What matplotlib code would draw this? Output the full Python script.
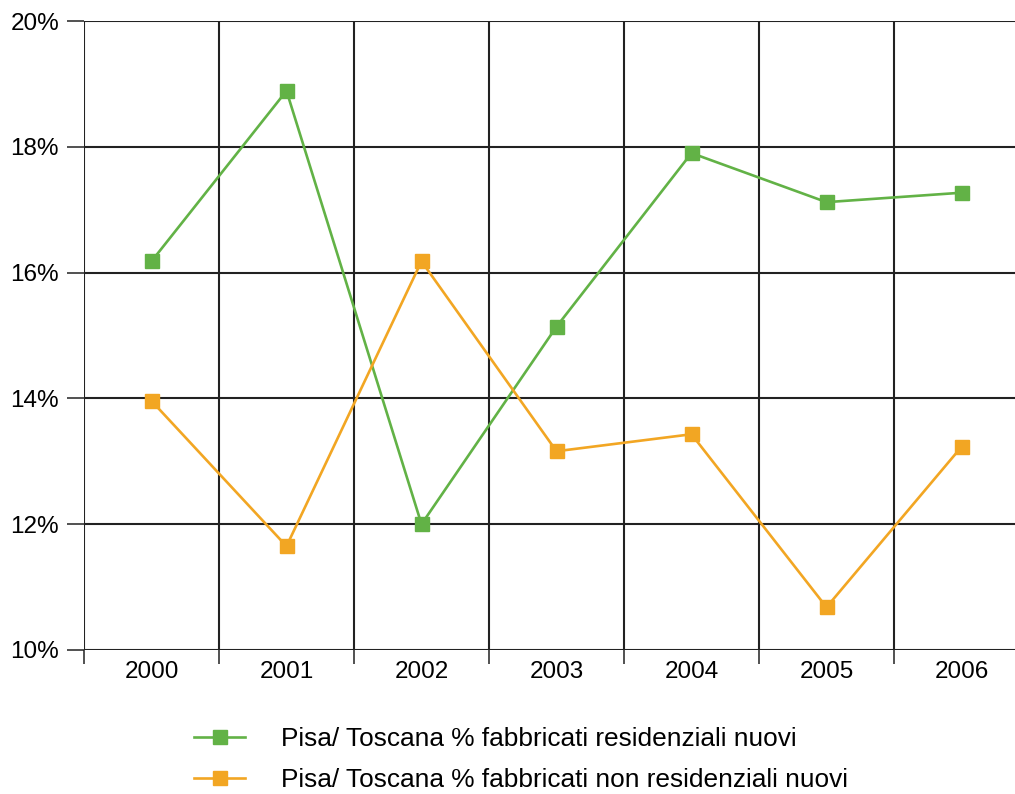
import matplotlib
matplotlib.use("Agg")
import matplotlib.pyplot as plt
from matplotlib.ticker import FixedLocator

years = ["2000", "2001", "2002", "2003", "2004", "2005", "2006"]
residenziali = [16.18, 18.89, 12.0, 15.14, 17.90, 17.12, 17.27]
non_residenziali = [13.96, 11.65, 16.18, 13.16, 13.43, 10.68, 13.23]
y_ticks = [10, 12, 14, 16, 18, 20]
label_res = "Pisa/ Toscana % fabbricati residenziali nuovi"
label_nonres = "Pisa/ Toscana % fabbricati non residenziali nuovi"

plt.rcParams['font.family'] = ['Liberation Sans', 'DejaVu Sans']

W, H = 1015, 794
fig = plt.figure(figsize=(W / 100, H / 100), dpi=100)
ax = fig.add_axes([84 / W, 1 - 650 / H, 945 / W, 629 / H])

x = list(range(len(years)))
green = "#62b246"
orange = "#f2a623"
ax.plot(x, residenziali, color=green, lw=1.9, marker="s", ms=10, mec=green,
        label=label_res, clip_on=False, zorder=3)
ax.plot(x, non_residenziali, color=orange, lw=1.9, marker="s", ms=10, mec=orange,
        label=label_nonres, clip_on=False, zorder=3)

ax.set_xlim(-0.5, len(years) - 0.5)
ax.set_ylim(10, 20)
ax.set_xticks(x)
ax.set_xticklabels(years, fontsize=17.5)
ax.xaxis.set_minor_locator(FixedLocator([i - 0.5 for i in range(len(years) + 1)]))
ax.set_yticks(y_ticks)
ax.set_yticklabels([f"{v}%" for v in y_ticks], fontsize=17.5)

for s in ax.spines.values():
    s.set_visible(False)

ax.tick_params(axis="x", which="major", length=0, pad=8)
ax.tick_params(axis="x", which="minor", length=10, width=1.1, color="#222222")
ax.tick_params(axis="y", which="major", length=12, width=1.1, color="#222222", pad=6)

ax.grid(True, axis="y", which="major", color="#222222", lw=1.5)
ax.grid(True, axis="x", which="minor", color="#222222", lw=1.5)
ax.grid(False, axis="x", which="major")
ax.set_axisbelow(True)

fig.legend(loc="upper left", bbox_to_anchor=(194 / W, 1 - 727 / H), frameon=False,
           fontsize=18.9, handlelength=1.95, handletextpad=1.37, labelspacing=0.64,
           borderaxespad=0, borderpad=0)

fig.savefig("out.png", dpi=100)
